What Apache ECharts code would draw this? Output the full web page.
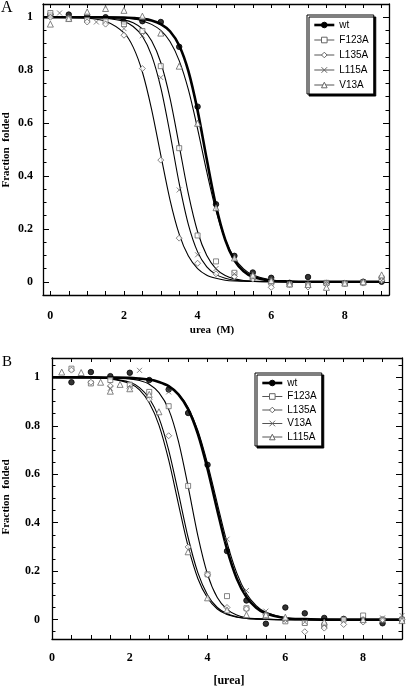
<!DOCTYPE html>
<html>
<head>
<meta charset="utf-8">
<script src="https://cdn.jsdelivr.net/npm/echarts@6/dist/echarts.min.js"></script>
<style>
html,body{margin:0;padding:0;background:#fff;}
#chart{width:407px;height:688px;}
</style>
</head>
<body>
<div id="chart"></div>
<script>
// ---------- Panel A data ----------
const wtA_pts    = [[0,1.01],[0.5,1.01],[1,1.004],[1.5,1.0],[2,0.982],[2.5,0.985],[3,0.982],[3.5,0.888],[4,0.662],[4.5,0.293],[5,0.098],[5.5,0.035],[6,0.015],[6.5,-0.004],[7,0.018],[7.5,-0.005],[8,-0.005],[8.5,0],[9,0]];
const f123A_pts  = [[0,1.016],[0.5,0.995],[1,0.99],[1.5,0.985],[2,0.974],[2.5,0.948],[3,0.815],[3.5,0.505],[4,0.175],[4.5,0.077],[5,0.034],[5.5,0.018],[6,-0.003],[6.5,-0.01],[7,-0.012],[7.5,-0.004],[8,-0.006],[8.5,-0.003],[9,0.013]];
const l135A_pts  = [[0,1.0],[0.5,0.995],[1,0.982],[1.5,0.974],[2,0.932],[2.5,0.806],[3,0.46],[3.5,0.165],[4,0.07],[4.5,0.03],[5,0.02],[5.5,0.01],[6,-0.021],[6.5,-0.01],[7,-0.02],[7.5,-0.01],[8,-0.005],[8.5,-0.005],[9,0.005]];
const l115A_pts  = [[0.25,1.016],[1.25,0.982],[2,0.957],[2.5,0.93],[3,0.772],[3.5,0.347],[4,0.102],[4.5,0.05],[5,0.03],[5.5,0.015],[6,0.005],[6.5,-0.005],[7,-0.01],[7.5,-0.005],[8,-0.005],[8.5,0],[9,0.005]];
const v13A_pts   = [[0,0.974],[0.5,0.995],[1,1.02],[1.5,1.033],[2,1.026],[2.5,1.004],[3,0.94],[3.5,0.815],[4,0.599],[4.5,0.28],[5,0.09],[5.5,0.025],[6,0.005],[6.5,-0.008],[7,-0.01],[7.5,-0.021],[8,-0.005],[8.5,0],[9,0.026]];

const curveX_A   = [-0.2,1,1.5,2,2.25,2.5,2.75,3,3.25,3.5,3.75,4,4.25,4.5,4.75,5,5.25,5.5,6,6.5,7,8,9];
const wtA_fit    = [1,1,1,0.999,0.997,0.994,0.988,0.974,0.947,0.893,0.796,0.647,0.462,0.287,0.159,0.081,0.040,0.019,0.004,0.001,0,0,0];
const f123A_fit  = [1,1,0.998,0.990,0.979,0.956,0.911,0.829,0.694,0.515,0.332,0.189,0.099,0.049,0.024,0.011,0.005,0.003,0.001,0,0,0,0];
const l135A_fit  = [1,0.996,0.985,0.941,0.887,0.793,0.652,0.479,0.310,0.180,0.097,0.050,0.025,0.013,0.006,0.003,0.002,0.001,0,0,0,0,0];
const l115A_fit  = [1,0.999,0.996,0.984,0.965,0.928,0.856,0.734,0.561,0.372,0.216,0.113,0.056,0.027,0.013,0.006,0.003,0.001,0,0,0,0,0];
const v13A_fit   = [1,1,0.999,0.996,0.993,0.986,0.973,0.950,0.908,0.836,0.726,0.578,0.415,0.269,0.160,0.090,0.049,0.026,0.007,0.002,0.001,0,0];

// ---------- Panel B data ----------
const wtB_pts    = [[0.5,0.98],[1,1.022],[1.5,1.005],[2,1.019],[2.5,0.989],[3,0.95],[3.5,0.853],[4,0.639],[4.5,0.283],[5,0.079],[5.5,-0.017],[6,0.05],[6.5,0.026],[7,0.007],[7.5,0.003],[8,0.0],[8.5,-0.015]];
const f123B_pts  = [[0.5,1.036],[1,0.975],[1.5,0.989],[2,0.97],[2.5,0.940],[3,0.881],[3.5,0.552],[4,0.187],[4.5,0.097],[5,0.047],[5.5,0.014],[6,-0.007],[6.5,-0.014],[7,-0.025],[7.5,0.0],[8,0.017],[8.5,0.0],[9,0.0]];
const l135B_pts  = [[0.5,1.03],[1,0.98],[1.5,0.964],[2,0.955],[2.5,0.91],[3,0.759],[3.5,0.30],[4,0.185],[4.5,0.05],[5,0.044],[5.5,0.02],[6,0.0],[6.5,-0.05],[7,-0.035],[7.5,-0.02],[8,-0.01],[8.5,0],[9,0]];
const v13B_pts   = [[1.5,0.955],[2.25,1.029],[3,0.94],[4.5,0.332],[5,0.12],[5.5,0.035],[6,0.0],[6.5,-0.01],[7,-0.02],[8,0.0],[8.5,0.007],[9,0.017]];
const l115B_pts  = [[0.25,1.022],[0.75,1.02],[1.25,0.98],[1.5,0.943],[1.75,0.971],[2,0.953],[2.5,0.93],[2.75,0.858],[3.5,0.28],[4,0.09],[4.5,0.04],[5,0.02],[5.5,0.02],[6,0.01],[7,-0.01],[8,0],[9,-0.004]];

const curveX_B   = [0,1,1.5,2,2.25,2.5,2.75,3,3.25,3.5,3.75,4,4.25,4.5,4.75,5,5.25,5.5,6,6.5,7,8,9];
const wtB_fit    = [1,1,0.999,0.998,0.995,0.991,0.981,0.964,0.930,0.869,0.767,0.622,0.452,0.291,0.170,0.093,0.049,0.025,0.006,0.002,0,0,0];
const f123B_fit  = [1,1,0.999,0.994,0.987,0.972,0.937,0.868,0.737,0.550,0.347,0.187,0.091,0.042,0.019,0.008,0.004,0.002,0,0,0,0,0];
const l135B_fit  = [1,0.999,0.995,0.980,0.958,0.914,0.833,0.700,0.523,0.339,0.194,0.102,0.050,0.024,0.012,0.005,0.003,0.001,0,0,0,0,0];
const v13B_fit   = [1,1,0.999,0.998,0.995,0.990,0.981,0.964,0.932,0.875,0.781,0.644,0.480,0.319,0.193,0.108,0.058,0.030,0.008,0.002,0.001,0,0];
const l115B_fit  = [1,0.999,0.994,0.975,0.948,0.895,0.803,0.659,0.478,0.302,0.170,0.089,0.044,0.021,0.010,0.005,0.002,0.001,0,0,0,0,0];

// ---------- ticks ----------
const xLabels    = [0,2,4,6,8];
const xTicksA    = [0,0.5,1,1.5,2,2.5,3,3.5,4,4.5,5,5.5,6,6.5,7,7.5,8,8.5,9];
const xTicksB    = [0,0.5,1,1.5,2,2.5,3,3.5,4,4.5,5,5.5,6,6.5,7,7.5,8,8.5];
const yLabels    = [0,0.2,0.4,0.6,0.8,1];
const yMinorA    = [-0.05,0.05,0.1,0.15,0.25,0.3,0.35,0.45,0.5,0.55,0.65,0.7,0.75,0.85,0.9,0.95,1.05];
const yMinorB    = [-0.05,0.05,0.1,0.15,0.25,0.3,0.35,0.45,0.5,0.55,0.65,0.7,0.75,0.85,0.9,0.95,1.05];

const zip = (xs, ys) => xs.map((x, i) => [x, ys[i]]);

const OPEN = {color:'#fff', borderColor:'#666', borderWidth:1};
const CROSS = 'path://M0,0L10,10M0,10L10,0';
const styles = {
  wt:    {symbol:'circle',  size:5.5, item:{color:'#000', borderColor:'#000', borderWidth:1}},
  F123A: {symbol:'rect',    size:5,   item:OPEN},
  L135A: {symbol:'diamond', size:6,   item:OPEN},
  L115A: {symbol:CROSS,     size:5,   item:OPEN},
  V13A:  {symbol:'triangle',size:6,   item:OPEN}
};
// panel B: crosses are V13A, triangles are L115A
const stylesB = Object.assign({}, styles, {
  L115A: {symbol:'triangle',size:6, item:OPEN},
  V13A:  {symbol:CROSS,     size:5, item:OPEN}
});

function curve(name, st, xs, ys, xi, yi, width) {
  return {type:'line', name, xAxisIndex:xi, yAxisIndex:yi, data:zip(xs, ys),
    smooth:0.3, showSymbol:false, symbol:st.symbol, symbolSize:st.size,
    itemStyle:st.item, lineStyle:{color:'#000', width:width}, silent:true, z:2, animation:false};
}
function pts(name, st, data, xi, yi) {
  return {type:'scatter', name, xAxisIndex:xi, yAxisIndex:yi, data,
    symbol:st.symbol, symbolSize:st.size, itemStyle:st.item, silent:true, z:3, animation:false};
}

const series = [
  curve('wt',   styles.wt,   curveX_A, wtA_fit,   0, 0, 2.6),
  curve('F123A',styles.F123A,curveX_A, f123A_fit, 0, 0, 1.1),
  curve('L135A',styles.L135A,curveX_A, l135A_fit, 0, 0, 1.1),
  curve('L115A',styles.L115A,curveX_A, l115A_fit, 0, 0, 1.1),
  curve('V13A', styles.V13A, curveX_A, v13A_fit,  0, 0, 1.1),
  pts('wt',   styles.wt,   wtA_pts,   0, 0),
  pts('F123A',styles.F123A,f123A_pts, 0, 0),
  pts('L135A',styles.L135A,l135A_pts, 0, 0),
  pts('L115A',styles.L115A,l115A_pts, 0, 0),
  pts('V13A', styles.V13A, v13A_pts,  0, 0),

  curve('wt_B',   stylesB.wt,   curveX_B, wtB_fit,   2, 4, 2.6),
  curve('F123A_B',stylesB.F123A,curveX_B, f123B_fit, 2, 4, 1.1),
  curve('L135A_B',stylesB.L135A,curveX_B, l135B_fit, 2, 4, 1.1),
  curve('V13A_B', stylesB.V13A, curveX_B, v13B_fit,  2, 4, 1.1),
  curve('L115A_B',stylesB.L115A,curveX_B, l115B_fit, 2, 4, 1.1),
  pts('wt_B',   stylesB.wt,   wtB_pts,   2, 4),
  pts('F123A_B',stylesB.F123A,f123B_pts, 2, 4),
  pts('L135A_B',stylesB.L135A,l135B_pts, 2, 4),
  pts('V13A_B', stylesB.V13A, v13B_pts,  2, 4),
  pts('L115A_B',stylesB.L115A,l115B_pts, 2, 4)
];

const tickFont = {fontFamily:'Liberation Serif', fontWeight:'bold', fontSize:12, color:'#000'};
const axLine = {show:true, onZero:false, lineStyle:{color:'#000', width:1.3}};

function xAx(grid, min, max, pos, ticks, labels, margin) {
  return {type:'value', gridIndex:grid, min, max, position:pos,
    axisLine:axLine, splitLine:{show:false},
    axisTick:{show:true, inside:true, length:4, customValues:ticks, lineStyle:{color:'#000', width:1}},
    axisLabel: labels ? Object.assign({show:true, customValues:labels, margin}, tickFont) : {show:false}};
}
function yAx(grid, min, max, pos, ticks, len, labels, margin, line) {
  return {type:'value', gridIndex:grid, min, max, position:pos,
    axisLine: line ? axLine : {show:false, onZero:false}, splitLine:{show:false},
    axisTick:{show:true, inside:true, length:len, customValues:ticks, lineStyle:{color:'#000', width:1}},
    axisLabel: labels ? Object.assign({show:true, customValues:labels, margin, formatter:v => String(v)}, tickFont) : {show:false}};
}

function legendData(names, lineWidths, st, suffix) {
  return names.map((n, i) => ({
    name: n + suffix,
    itemStyle: Object.assign({}, st[n].item),
    lineStyle: {color: lineWidths[i] > 2 ? '#000' : '#555', width: lineWidths[i], opacity:1, type:'solid'}
  }));
}

const option = {
  backgroundColor:'#fff',
  animation:false,
  grid:[
    {left:43, top:4, width:346, height:291},
    {left:52, top:358, width:350, height:281}
  ],
  xAxis:[
    xAx(0, -0.2, 9.2, 'bottom', xTicksA, xLabels, 15),
    xAx(0, -0.2, 9.2, 'top', xTicksA, null),
    xAx(1, 0, 9, 'bottom', xTicksB, xLabels, 13),
    xAx(1, 0, 9, 'top', xTicksB, null)
  ],
  yAxis:[
    yAx(0, -0.05, 1.05, 'left', yLabels, 6, yLabels, 10, true),
    yAx(0, -0.05, 1.05, 'left', yMinorA, 3.5, null, 0, false),
    yAx(0, -0.05, 1.05, 'right', yLabels, 6, null, 0, true),
    yAx(0, -0.05, 1.05, 'right', yMinorA, 3.5, null, 0, false),
    yAx(1, -0.08, 1.08, 'left', yLabels, 6, yLabels, 12, true),
    yAx(1, -0.08, 1.08, 'left', yMinorB, 3.5, null, 0, false),
    yAx(1, -0.08, 1.08, 'right', yLabels, 6, null, 0, true),
    yAx(1, -0.08, 1.08, 'right', yMinorB, 3.5, null, 0, false)
  ],
  legend:[
    {orient:'vertical', left:307, top:15, padding:[5,5,4,6], itemWidth:20, itemHeight:7, itemGap:5,
     backgroundColor:'#fff', borderColor:'#000', borderWidth:1,
     shadowColor:'#000', shadowOffsetX:2, shadowOffsetY:2, shadowBlur:0,
     selectedMode:false, textStyle:{fontFamily:'Liberation Sans', fontSize:10, color:'#000'},
     data: legendData(['wt','F123A','L135A','L115A','V13A'], [2.6,1,1,1,1], styles, '')},
    {orient:'vertical', left:255, top:373, padding:[5,5,4,6], itemWidth:20, itemHeight:7, itemGap:3.5,
     backgroundColor:'#fff', borderColor:'#000', borderWidth:1,
     shadowColor:'#000', shadowOffsetX:2, shadowOffsetY:2, shadowBlur:0,
     selectedMode:false, textStyle:{fontFamily:'Liberation Sans', fontSize:10, color:'#000'},
     formatter: n => n.replace('_B',''),
     data: legendData(['wt','F123A','L135A','V13A','L115A'], [2.6,1,1,1,1], stylesB, '_B')}
  ],
  graphic:[
    {type:'text', left:1, top:0, style:{text:'A', font:'16px "Liberation Serif"', fill:'#000'}},
    {type:'text', left:2, top:355, style:{text:'B', font:'15px "Liberation Serif"', fill:'#000'}},
    {type:'text', x:6, y:150, rotation:Math.PI/2, style:{text:'Fraction  folded', font:'bold 11px "Liberation Serif"', fill:'#000', align:'center', verticalAlign:'middle'}},
    {type:'text', x:6, y:497, rotation:Math.PI/2, style:{text:'Fraction  folded', font:'bold 11px "Liberation Serif"', fill:'#000', align:'center', verticalAlign:'middle'}},
    {type:'text', x:212, y:330, style:{text:'urea  (M)', font:'bold 11px "Liberation Serif"', fill:'#000', align:'center', verticalAlign:'middle'}},
    {type:'text', x:229, y:681, style:{text:'[urea]', font:'bold 12px "Liberation Serif"', fill:'#000', align:'center', verticalAlign:'middle'}}
  ],
  series
};

const chart = echarts.init(document.getElementById('chart'), null, {renderer:'canvas'});
chart.setOption(option);
</script>
</body>
</html>
